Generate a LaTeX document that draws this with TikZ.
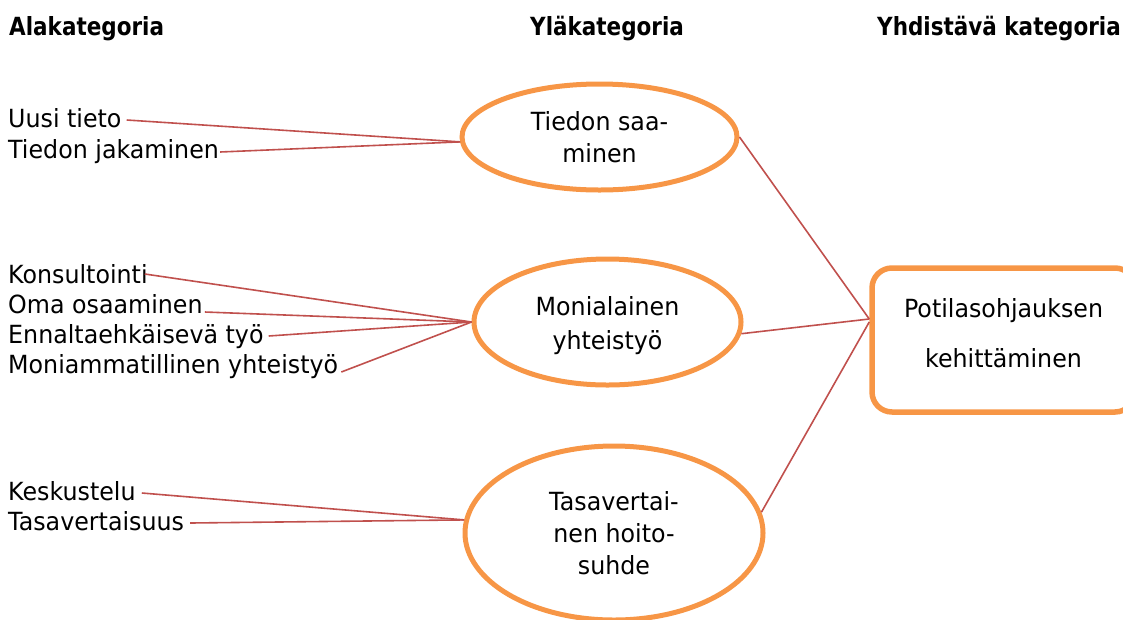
\documentclass[tikz,border=0pt]{standalone}
\usepackage{fontspec}
\setmainfont{DejaVu Sans}[FakeStretch=0.95]
\newfontfamily\headfont{DejaVu Sans Bold}[FakeStretch=0.86]
\usetikzlibrary{shapes.geometric,calc}
\definecolor{orangeC}{HTML}{F79646}
\definecolor{redC}{HTML}{C0504D}
\tikzset{
  lab/.style={anchor=base west, inner sep=0pt, font=\fontsize{25}{31}\selectfont},
  head/.style={anchor=base west, inner sep=0pt, font=\headfont\fontsize{25}{31}\selectfont},
  oval/.style={ellipse, draw=orangeC, line width=5pt, align=center, inner sep=0pt,
    font=\fontsize{25}{32}\selectfont},
  goalbox/.style={rectangle, rounded corners=20pt, draw=orangeC, line width=5.5pt,
    align=center, inner sep=0pt, font=\fontsize{25}{50}\selectfont},
  link/.style={draw=redC, line width=1.6pt}
}
\begin{document}
\begin{tikzpicture}[x=1pt,y=-1pt]
\useasboundingbox (0,0) rectangle (1123,619);
% headers
\node[head] (h1) at (9,35) {Alakategoria};
\node[head] (h2) at (530,35) {Yläkategoria};
\node[head] (h3) at (877,35) {Yhdistävä kategoria};
% left labels
\node[lab] (uusi) at (8,127) {Uusi tieto};
\node[lab] (jak) at (8,158) {Tiedon jakaminen};
\node[lab] (kons) at (8,283) {Konsultointi};
\node[lab] (oma) at (8,313) {Oma osaaminen};
\node[lab] (enn) at (8,343) {Ennaltaehkäisevä työ};
\node[lab] (moam) at (8,373) {Moniammatillinen yhteistyö};
\node[lab] (kesk) at (8,500) {Keskustelu};
\node[lab] (tasv) at (8,530) {Tasavertaisuus};
% ellipses
\node[oval, minimum width=275pt, minimum height=106pt] (tiedon) at (599.5,137) {Tiedon saa-\\minen};
\node[oval, minimum width=267pt, minimum height=126pt, font=\fontsize{25}{34}\selectfont] (moni) at (607.5,322) {\rule{0pt}{26pt}Monialainen\\yhteistyö};
\node[oval, minimum width=298pt, minimum height=174pt] (tasa) at (614,533) {Tasavertai-\\nen hoito-\\suhde};
% goal box
\node[goalbox, minimum width=263pt, minimum height=144pt] (goal) at (1003.5,340) {Potilasohjauksen\\kehittäminen\rule[-15pt]{0pt}{15pt}};
% hubs
\coordinate (c1) at (tiedon.182);
\coordinate (c2) at (moni.west);
\coordinate (c3) at (tasa.175);
\coordinate (g1) at ($(goal.west)+(0,-21)$);
\coordinate (g2) at ($(goal.west)+(0,-18)$);
% links left
\draw[link] ($(uusi.base east)+(5,-7)$) -- (c1);
\draw[link] ($(jak.base east)+(1,-6)$) -- (c1);
\draw[link] ($(kons.base east)+(-3,-9)$) -- (c2);
\draw[link] ($(oma.base east)+(2,-1)$) -- (c2);
\draw[link] ($(enn.base east)+(5,-7)$) -- (c2);
\draw[link] ($(moam.base east)+(3,-1)$) -- (c2);
\draw[link] ($(kesk.base east)+(6,-7)$) -- (c3);
\draw[link] ($(tasv.base east)+(6,-7)$) -- (c3);
% links right
\draw[link] (tiedon.east) -- (g1);
\draw[link] (moni.-5) -- (g1);
\draw[link] (tasa.8) -- (g2);
\end{tikzpicture}
\end{document}
